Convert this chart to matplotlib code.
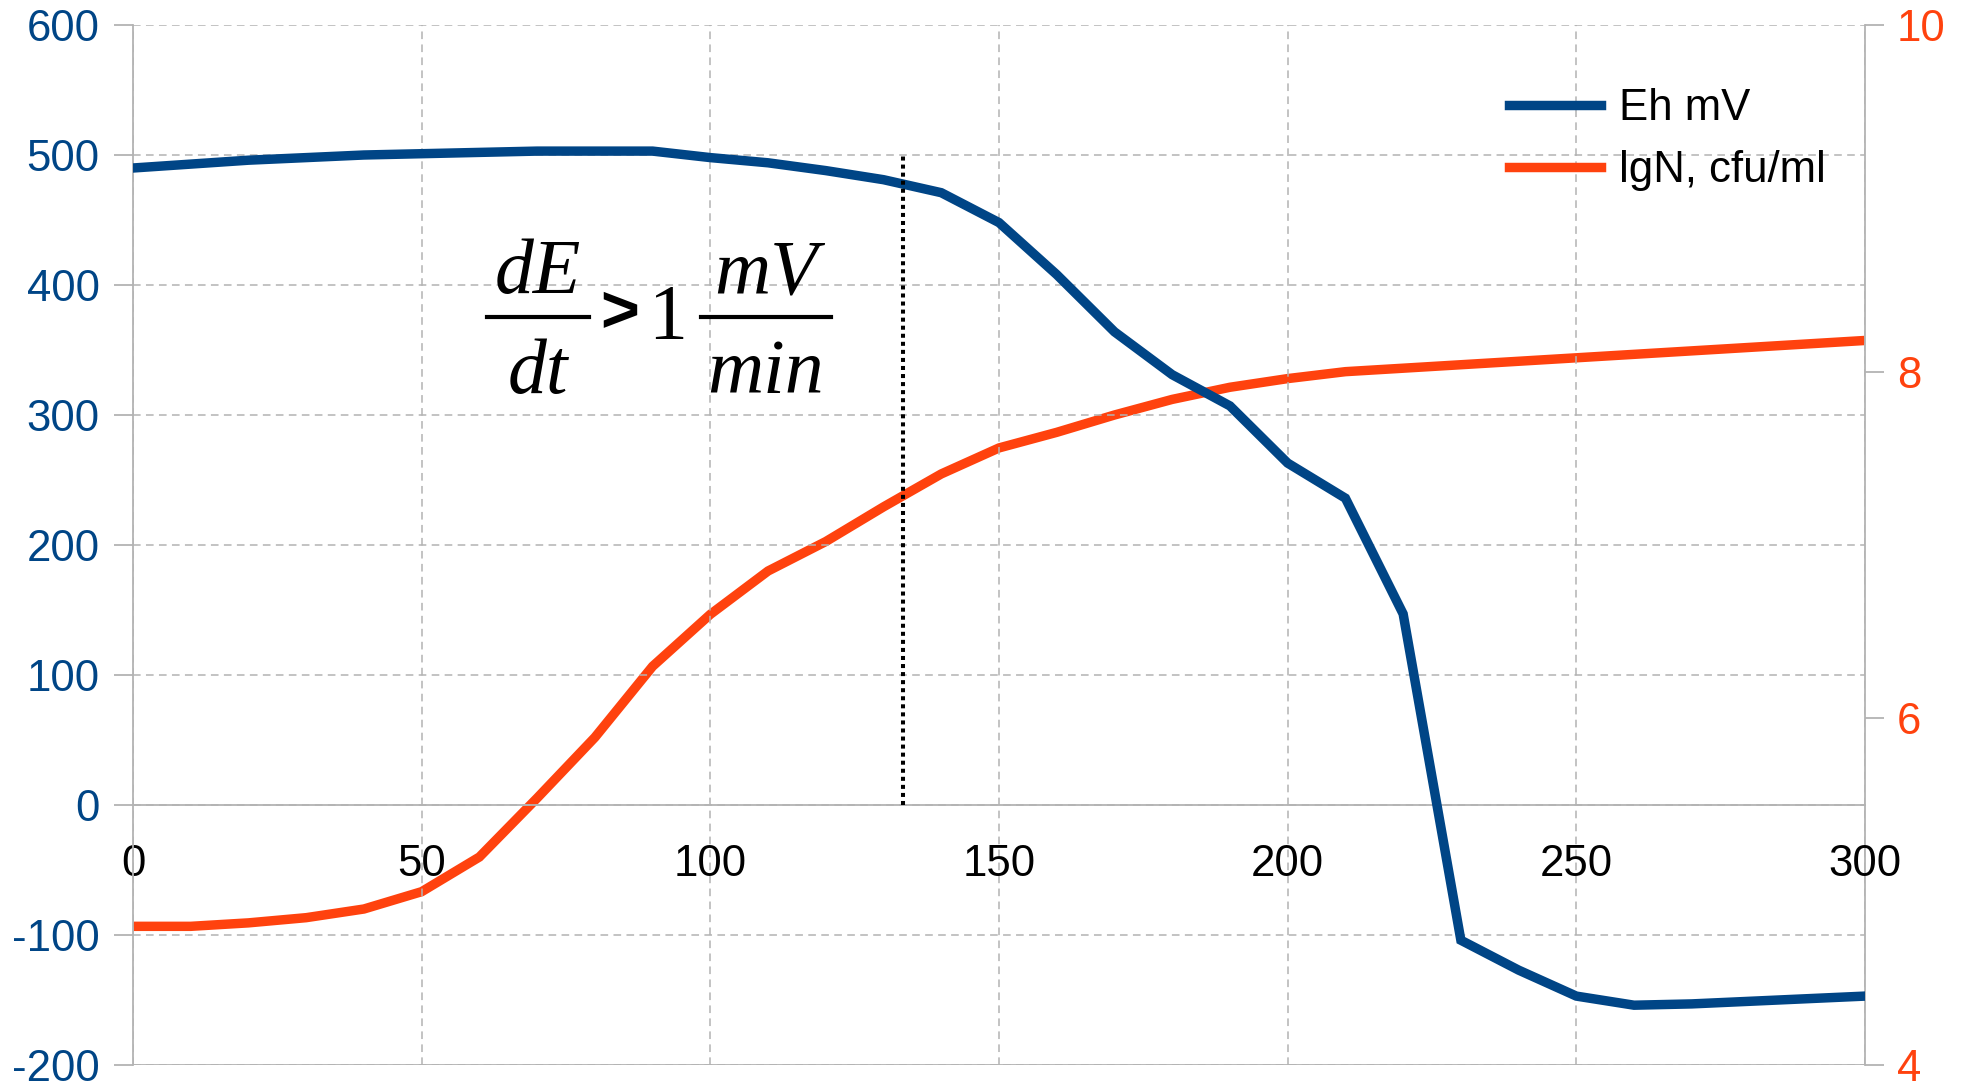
import numpy as np
import matplotlib
matplotlib.use("Agg")
import matplotlib.pyplot as plt
from matplotlib.lines import Line2D

# ── Data ──────────────────────────────────────────────────────────────────────
time_min = [0, 10, 20, 30, 40, 50, 60, 70, 80, 90, 100, 110, 120, 130, 140, 150,
            160, 170, 180, 190, 200, 210, 220, 230, 240, 250, 260, 270, 280, 290, 300]
eh_mv = [490, 493, 496, 498, 500, 501, 502, 503, 503, 503, 498, 494, 488, 481, 471, 448,
         408, 364, 331, 307, 263, 236, 147, -104, -127, -147, -154, -153, -151, -149, -147]
lgN = [4.80, 4.80, 4.82, 4.85, 4.90, 5.00, 5.20, 5.54, 5.89, 6.30, 6.60, 6.85, 7.02, 7.22,
       7.41, 7.56, 7.65, 7.75, 7.84, 7.91, 7.96, 8.00, 8.02, 8.04, 8.06, 8.08, 8.10, 8.12,
       8.14, 8.16, 8.18]

MARK_X = 133.3          # dE/dt threshold point, min
MARK_Y = [0, 500]       # extent of the dotted marker, mV

x_ticks = [0, 50, 100, 150, 200, 250, 300]
left_ticks = [-200, -100, 0, 100, 200, 300, 400, 500, 600]
right_ticks = [4, 6, 8, 10]

BLUE = "#004586"
ORANGE = "#ff420e"
GRID = "#b3b3b3"

plt.rcParams["font.family"] = ["Liberation Sans", "DejaVu Sans"]
plt.rcParams["axes.unicode_minus"] = False

FS = 31.5
W, H = 1966, 1084

fig = plt.figure(figsize=(W / 100, H / 100), dpi=100)
ax = fig.add_axes([133 / W, 1 - 1065 / H, (1865 - 133) / W, (1065 - 25) / H])
ax2 = ax.twinx()
ax.set_zorder(ax2.get_zorder() + 1)
ax.patch.set_visible(False)

# ── Lines ─────────────────────────────────────────────────────────────────────
l2, = ax2.plot(time_min, lgN, color=ORANGE, lw=6.8, solid_joinstyle="miter",
               label="lgN, cfu/ml")
l1, = ax.plot(time_min, eh_mv, color=BLUE, lw=6.8, solid_joinstyle="miter",
              label="Eh mV", zorder=5)
ax.plot([MARK_X, MARK_X], MARK_Y, color="black", lw=2.9, ls=(0, (1, 1)), zorder=6)

# ── Axes ──────────────────────────────────────────────────────────────────────
ax.set_xlim(0, 300)
ax.set_ylim(-200, 600)
ax2.set_ylim(4, 10)
ax.set_xticks(x_ticks)
ax.set_yticks(left_ticks)
ax2.set_yticks(right_ticks)

ax.grid(True, color=GRID, ls=(0, (5, 3.5)), lw=1.1)
ax.axhline(-200, color=GRID, lw=1.3, zorder=1)

for s in ["top", "right"]:
    ax.spines[s].set_visible(False)
ax.spines["bottom"].set_position(("data", 0))
ax.spines["bottom"].set_color(GRID)
ax.spines["bottom"].set_linewidth(1.3)
ax.spines["left"].set_color(GRID)
ax.spines["left"].set_linewidth(1.3)
for s in ["top", "left", "bottom"]:
    ax2.spines[s].set_visible(False)
ax2.spines["right"].set_color(GRID)
ax2.spines["right"].set_linewidth(1.3)

ax.tick_params(axis="y", direction="out", length=14, width=1.3, color=GRID,
               labelsize=FS, labelcolor=BLUE, pad=10)
ax.tick_params(axis="x", length=0, labelsize=FS, labelcolor="black", pad=28)
ax2.tick_params(axis="y", direction="out", length=14, width=1.3, color=GRID,
                labelsize=FS, labelcolor=ORANGE, pad=9)

# ── Formula  dE/dt > 1 mV/min ─────────────────────────────────────────────────
serif = dict(family=["Liberation Serif", "DejaVu Serif"], fontsize=56, color="black")


def fx(px):
    return px / W


def fy(py):
    return 1 - py / H


def frac(num, den, x0, x1):
    xc = (x0 + x1) / 2
    fig.text(fx(xc), fy(293), num, ha="center", va="baseline", style="italic", **serif)
    fig.text(fx(xc), fy(393), den, ha="center", va="baseline", style="italic", **serif)
    fig.add_artist(Line2D([fx(x0), fx(x1)], [fy(317), fy(317)], color="black",
                          lw=3.0, transform=fig.transFigure))


frac("dE", "dt", 487, 589)
frac("mV", "min", 701, 831)
fig.text(fx(620), fy(315), ">", ha="center", va="center", weight="bold",
         family=["Liberation Sans", "DejaVu Sans"], fontsize=48)
fig.text(fx(668), fy(338), "1", ha="center", va="baseline", **serif)

# ── Legend ────────────────────────────────────────────────────────────────────
fig.legend(handles=[l1, l2], loc="upper left",
           bbox_to_anchor=(1509 / W, 1 - 88 / H), frameon=False,
           fontsize=FS, handlelength=2.1, handletextpad=0.42, labelspacing=0.48,
           borderpad=0, borderaxespad=0)

fig.savefig("out.png", dpi=100)
